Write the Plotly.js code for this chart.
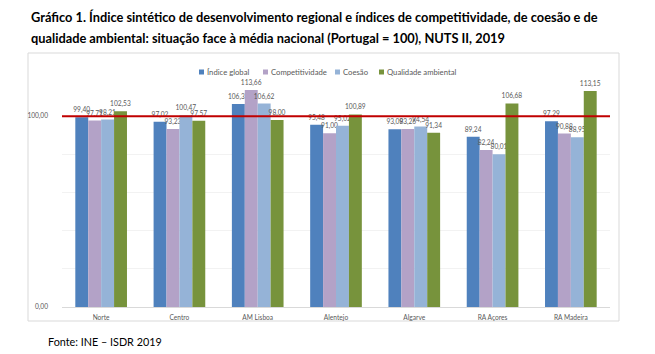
<!DOCTYPE html>
<html><head><meta charset="utf-8">
<script src="https://cdn.plot.ly/plotly-3.0.1.min.js"></script>
<style>html,body{margin:0;padding:0;background:#fff}#chart{width:655px;height:354px}</style>
</head><body><div id="chart"></div>
<script>
const regions = ["Norte","Centro","AM Lisboa","Alentejo","Algarve","RA Açores","RA Madeira"];
const indiceGlobal = [99.40, 97.02, 106.37, 95.48, 93.08, 89.24, 97.29];
const competitividade = [97.71, 93.23, 113.66, 91.00, 93.26, 82.24, 90.88];
const coesao = [98.21, 100.47, 106.62, 95.02, 94.54, 80.01, 88.95];
const qualidadeAmbiental = [102.53, 97.57, 98.00, 100.89, 91.34, 106.68, 113.15];
const seriesNames = ["Índice global","Competitividade","Coesão","Qualidade ambiental"];
const seriesColors = ["#4F81BD","#B3A2C7","#95B3D7","#77933C"];
const nationalAverage = 100;
const yTickVals = [0,20,40,60,80,100,120];
const yTickText = ["0,00","","","","","100,00",""];

const W=655,H=354, mL=62, mR=45, mT=78, mB=47;
const pw=W-mL-mR, ph=H-mT-mB;
const px = x => (x-mL)/pw;
const py = y => (H-mB-y)/ph;

const FAM="Lato, Liberation Sans, sans-serif";
const allSeries=[indiceGlobal,competitividade,coesao,qualidadeAmbiental];
const labelFont={family:FAM,size:6.6,color:"#595959"};
const traces = allSeries.map((vals,i)=>({
  type:"bar", x:regions, y:vals, name:seriesNames[i],
  marker:{color:seriesColors[i]},
  texttemplate:"%{y:.2f}", textposition:"outside", constraintext:"none",
  textfont:labelFont, cliponaxis:false, showlegend:false, hoverinfo:"skip"
}));

const shapes=[
  {type:"rect",xref:"paper",yref:"paper",x0:px(28),x1:px(619),y0:py(321),y1:py(53),line:{color:"#D9D9D9",width:1},layer:"below"},
  {type:"line",xref:"paper",yref:"y",x0:0,x1:1,y0:nationalAverage,y1:nationalAverage,line:{color:"#C00000",width:2},layer:"above"}
];
const titleFont={family:FAM,size:12.8,color:"#000",weight:"bold"};
const annotations=[
  {xref:"paper",yref:"paper",x:px(29),y:py(17),xanchor:"left",yanchor:"middle",showarrow:false,
   text:"<b>Gráfico 1. Índice sintético de desenvolvimento regional e índices de competitividade, de coesão e de</b>",
   font:titleFont},
  {xref:"paper",yref:"paper",x:px(29),y:py(38),xanchor:"left",yanchor:"middle",showarrow:false,
   text:"<b>qualidade ambiental: situação face à média nacional (Portugal = 100), NUTS II, 2019</b>",
   font:titleFont},
  {xref:"paper",yref:"paper",x:px(46),y:py(341),xanchor:"left",yanchor:"middle",showarrow:false,
   text:"Fonte: INE – ISDR 2019",
   font:{family:FAM,size:10.8,color:"#000"}}
];
// custom legend
const legendX=[199,263,335,379];
seriesNames.forEach((n,i)=>{
  shapes.push({type:"rect",xref:"paper",yref:"paper",x0:px(legendX[i]),x1:px(legendX[i]+5),y0:py(74.5),y1:py(69.5),fillcolor:seriesColors[i],line:{width:0}});
  annotations.push({xref:"paper",yref:"paper",x:px(legendX[i]+5.5),y:py(72),xanchor:"left",yanchor:"middle",showarrow:false,
    text:n,font:{family:FAM,size:7.7,color:"#595959"}});
});

const layout={
  width:W,height:H,margin:{l:mL,r:mR,t:mT,b:mB,pad:0},
  paper_bgcolor:"#fff",plot_bgcolor:"#fff",
  separators:",.",
  barmode:"group",bargap:0.34,bargroupgap:0,
  showlegend:false,
  xaxis:{type:"category",showgrid:false,showline:true,linecolor:"#D9D9D9",linewidth:1,ticks:"",
    tickfont:labelFont,ticklabelstandoff:4,fixedrange:true},
  yaxis:{range:[0,120],tickvals:yTickVals,ticktext:yTickText,showgrid:true,gridcolor:"#F2F2F2",gridwidth:1,
    zeroline:false,showline:false,ticks:"",tickfont:labelFont,ticklabelstandoff:13,fixedrange:true},
  shapes:shapes,annotations:annotations,
  font:{family:FAM}
};
Plotly.newPlot("chart",traces,layout,{displayModeBar:false,staticPlot:true});
</script></body></html>
